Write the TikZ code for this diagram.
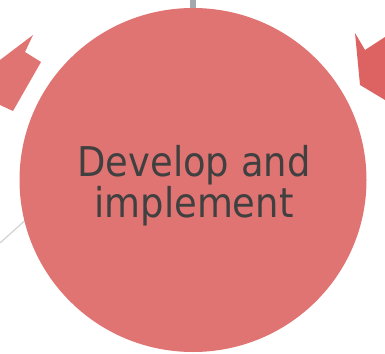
\documentclass[tikz,border=0pt]{standalone}
\usepackage{fontspec}
\setmainfont{DejaVu Sans Condensed}
\definecolor{stepred}{RGB}{224,116,115}
\definecolor{arrowred}{RGB}{221,99,98}
\definecolor{textgray}{RGB}{64,64,64}
\definecolor{linkgray}{RGB}{164,168,172}
\definecolor{paleline}{RGB}{210,210,210}
\begin{document}
\begin{tikzpicture}[x=1pt,y=-1pt]
  \useasboundingbox (0,0) rectangle (385,353);
  % links coming in from outside
  \coordinate (topend) at (193,0);
  \coordinate (leftend) at (0,243);
  \coordinate (leftin) at (30,216);
  \draw [linkgray, line width=6pt] (topend) -- (193,20);
  \draw [paleline, line width=1.2pt] (leftend) -- (leftin);
  % the step itself
  \fill [stepred] (193,180) ellipse [x radius=173.5, y radius=172];
  \node (dev) [text=textgray, font=\fontsize{41}{38.5}\selectfont, align=center, inner sep=0pt]
    at (194,185.5) {Develop and\\implement};
  % arrow pieces at the edges
  \fill [stepred] (0,60) -- (33,35) -- (25,52) -- (41,62) -- (13,111) -- (0,105) -- cycle;
  \fill [arrowred] (355,33) -- (365,50) -- (385,37) -- (385,100) -- (360,85) -- cycle;
\end{tikzpicture}
\end{document}
